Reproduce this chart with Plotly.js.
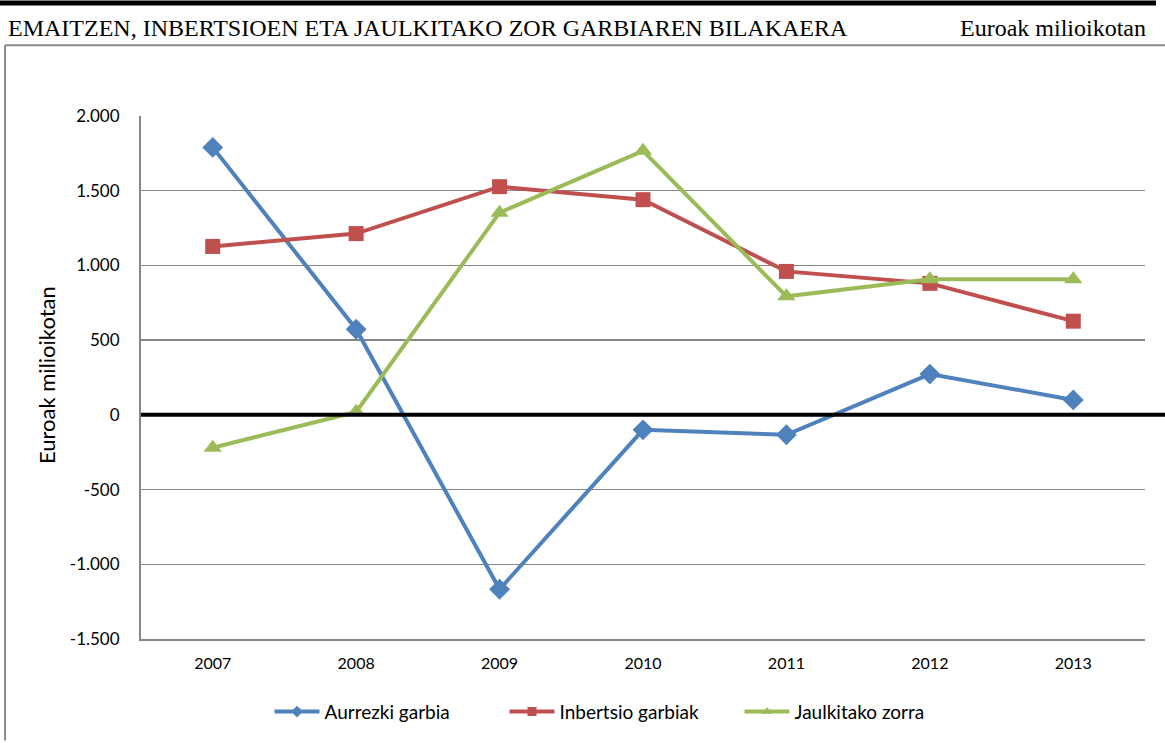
<!DOCTYPE html>
<html>
<head>
<meta charset="utf-8">
<script src="https://cdn.plot.ly/plotly-3.0.1.min.js"></script>
<style>html,body{margin:0;padding:0;background:#fff;}#chart{width:1165px;height:743px;}</style>
</head>
<body>
<div id="chart"></div>
<script>
const years = ["2007","2008","2009","2010","2011","2012","2013"];
const aurrezkiGarbia = [1790, 573, -1167, -100, -133, 273, 100];
const inbertsioGarbiak = [1127, 1213, 1527, 1440, 960, 880, 627];
const jaulkitakoZorra = [-220, 20, 1353, 1767, 793, 907, 907];
const yTickVals = [-1500, -1000, -500, 0, 500, 1000, 1500, 2000];
const yTickLabels = ["-1.500", "-1.000", "-500", "0", "500", "1.000", "1.500", "2.000"];
const seriesNames = ["Aurrezki garbia", "Inbertsio garbiak", "Jaulkitako zorra"];
const headerTitle = "EMAITZEN, INBERTSIOEN ETA JAULKITAKO ZOR GARBIAREN BILAKAERA";
const headerUnit = "Euroak milioikotan";
const yTitle = "Euroak milioikotan";

const W = 1165, H = 743;
const L = 141, R = 1145, T = 116, B = 641;
const px = x => (x - L) / (R - L);
const py = y => (B - y) / (B - T);

const font = "Lato, 'Open Sans', sans-serif";
const colors = ["#4F81BD", "#C0504D", "#9BBB59"];
const symbols = ["diamond", "square", "triangle-up"];
const sizes = [16, 15, 16];
const values = [aurrezkiGarbia, inbertsioGarbiak, jaulkitakoZorra];

const traces = [];
values.forEach((v, i) => {
  traces.push({x: years, y: v, name: seriesNames[i], type: "scatter", mode: "lines+markers",
    showlegend: false, line: {color: colors[i], width: 4},
    marker: {symbol: symbols[i], size: sizes[i], color: colors[i]}});
});
values.forEach((v, i) => {
  traces.push({x: [null], y: [null], name: seriesNames[i], type: "scatter", mode: "lines+markers",
    showlegend: true, line: {color: colors[i], width: 4},
    marker: {symbol: symbols[i], size: 9, color: colors[i]}});
});

const layout = {
  width: W, height: H,
  margin: {l: L, r: W - R, t: T, b: H - B, pad: 0},
  paper_bgcolor: "#fff", plot_bgcolor: "#fff",
  font: {family: font, size: 16, color: "#000"},
  showlegend: true,
  legend: {orientation: "h", x: px(622), xanchor: "center", y: py(714), yanchor: "middle",
           font: {family: font, size: 19, color: "#000"}, itemwidth: 45,
           entrywidth: 175, entrywidthmode: "pixels", tracegroupgap: 0},
  xaxis: {type: "category", range: [-0.5, 6.5], showgrid: false, zeroline: false,
          showline: true, linecolor: "#868686", linewidth: 2, ticks: "", ticklen: 0,
          ticklabelstandoff: 9,
          tickfont: {family: font, size: 16, color: "#000"}, fixedrange: true},
  yaxis: {range: [-1500, 2000], tickvals: yTickVals, ticktext: yTickLabels,
          showgrid: true, gridcolor: "#868686", gridwidth: 1.5, zeroline: false,
          showline: true, linecolor: "#868686", linewidth: 2, ticks: "", ticklen: 0,
          ticklabelstandoff: 16,
          tickfont: {family: font, size: 17, color: "#000"}, fixedrange: true},
  shapes: [
    {type: "line", xref: "paper", yref: "y", x0: 0, x1: px(1165), y0: 0, y1: 0,
     line: {color: "#000", width: 4}},
    {type: "rect", xref: "paper", yref: "paper", x0: px(0), x1: px(1156), y0: py(0), y1: py(5),
     fillcolor: "#000", line: {width: 0}},
    {type: "line", xref: "paper", yref: "paper", x0: px(5), x1: px(1165), y0: py(45), y1: py(45),
     line: {color: "#8c8c8c", width: 2}},
    {type: "line", xref: "paper", yref: "paper", x0: px(5), x1: px(5), y0: py(45), y1: py(743),
     line: {color: "#8c8c8c", width: 2}}
  ],
  annotations: [
    {text: headerTitle, xref: "paper", yref: "paper", x: px(6), y: py(28), xanchor: "left", yanchor: "middle",
     showarrow: false, font: {family: "'Liberation Serif', serif", size: 24, color: "#000"}},
    {text: headerUnit, xref: "paper", yref: "paper", x: px(1148), y: py(28), xanchor: "right", yanchor: "middle",
     showarrow: false, font: {family: "'Liberation Serif', serif", size: 24, color: "#000"}},
    {text: yTitle, xref: "paper", yref: "paper", x: px(46), y: py(376), xanchor: "center", yanchor: "middle",
     textangle: -90, showarrow: false, font: {family: font, size: 22, color: "#000"}}
  ]
};

Plotly.newPlot("chart", traces, layout, {displayModeBar: false, staticPlot: true});
</script>
</body>
</html>
